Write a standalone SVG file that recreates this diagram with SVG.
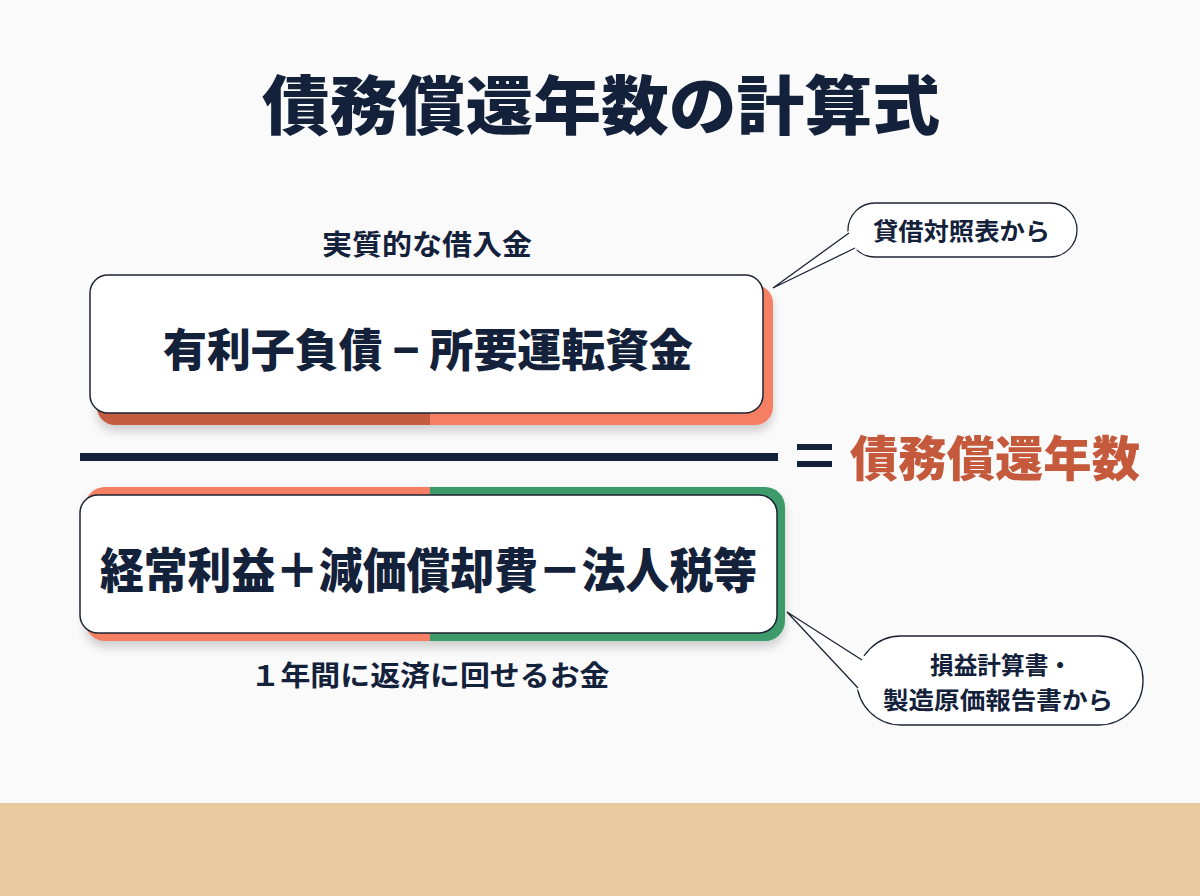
<svg xmlns="http://www.w3.org/2000/svg" width="1200" height="896" viewBox="0 0 1200 896">
<defs>
<style>
text{font-family:"Noto Sans CJK JP","Noto Sans",sans-serif;font-weight:700;fill:#13213b;text-anchor:middle}
.heavy{font-weight:900}
.box{fill:#ffffff;stroke:#1c2433;stroke-width:1.5}
.pill{fill:#ffffff;stroke:#1c2433;stroke-width:1.3}
.tail{fill:none;stroke:#1c2433;stroke-width:1.3;stroke-linejoin:miter}
</style>
<filter id="sh" x="-10%" y="-20%" width="120%" height="150%">
<feDropShadow dx="0" dy="6" stdDeviation="5" flood-color="#000" flood-opacity="0.18"/>
</filter>
<clipPath id="cl"><rect x="0" y="0" width="430" height="896"/></clipPath>
<clipPath id="cr"><rect x="430" y="0" width="770" height="896"/></clipPath>
</defs>
<rect width="1200" height="896" fill="#fafafb"/>
<rect x="0" y="803" width="1200" height="93" fill="#e8c9a0"/>
<text class="heavy" x="601" y="129" font-size="64" textLength="678" lengthAdjust="spacingAndGlyphs">債務償還年数の計算式</text>

<g id="numerator">
<text x="427" y="255" font-size="28" textLength="210" lengthAdjust="spacingAndGlyphs">実質的な借入金</text>
<g filter="url(#sh)">
<rect x="97" y="285" width="676" height="140" rx="18" fill="#c45b3f" clip-path="url(#cl)"/>
<rect x="97" y="285" width="676" height="140" rx="18" fill="#f47f62" clip-path="url(#cr)"/>
</g>
<rect class="box" x="90" y="275" width="673" height="138" rx="18"/>
<text class="heavy" x="428" y="367" font-size="45" textLength="530" lengthAdjust="spacingAndGlyphs">有利子負債 − 所要運転資金</text>
</g>

<g id="divider">
<rect x="80" y="453" width="698" height="8" fill="#13213b"/>
<rect x="797" y="444" width="35" height="6" fill="#13213b"/>
<rect x="797" y="461" width="35" height="6" fill="#13213b"/>
<text class="heavy" x="995" y="476" font-size="48" textLength="290" lengthAdjust="spacingAndGlyphs" style="fill:#c4593b">債務償還年数</text>
</g>

<g id="denominator">
<g filter="url(#sh)">
<rect x="85" y="487" width="700" height="154" rx="20" fill="#f47f62" clip-path="url(#cl)"/>
<rect x="85" y="487" width="700" height="154" rx="20" fill="#3d9b6b" clip-path="url(#cr)"/>
</g>
<rect class="box" x="80" y="495" width="697" height="138" rx="18"/>
<text class="heavy" x="428.5" y="588" font-size="48" textLength="657" lengthAdjust="spacingAndGlyphs">経常利益＋減価償却費－法人税等</text>
<text x="430" y="686" font-size="28" textLength="359" lengthAdjust="spacingAndGlyphs">１年間に返済に回せるお金</text>
</g>

<g id="callout-bs">
<rect class="pill" x="848" y="203" width="229" height="54" rx="27"/>
<polygon points="850,230 773,288 857,250" fill="#ffffff"/>
<polyline class="tail" points="849,233 773,288 855,248"/>
<text x="961.5" y="240" font-size="24" textLength="177" lengthAdjust="spacingAndGlyphs">貸借対照表から</text>
</g>

<g id="callout-pl">
<rect class="pill" x="857" y="636" width="286" height="89" rx="44"/>
<polygon points="866,657 787,612 860,692" fill="#ffffff"/>
<polyline class="tail" points="862,660 787,612 858,688"/>
<text x="1001" y="674" font-size="24" textLength="142" lengthAdjust="spacingAndGlyphs">損益計算書・</text>
<text x="998" y="709" font-size="24" textLength="230" lengthAdjust="spacingAndGlyphs">製造原価報告書から</text>
</g>
</svg>
